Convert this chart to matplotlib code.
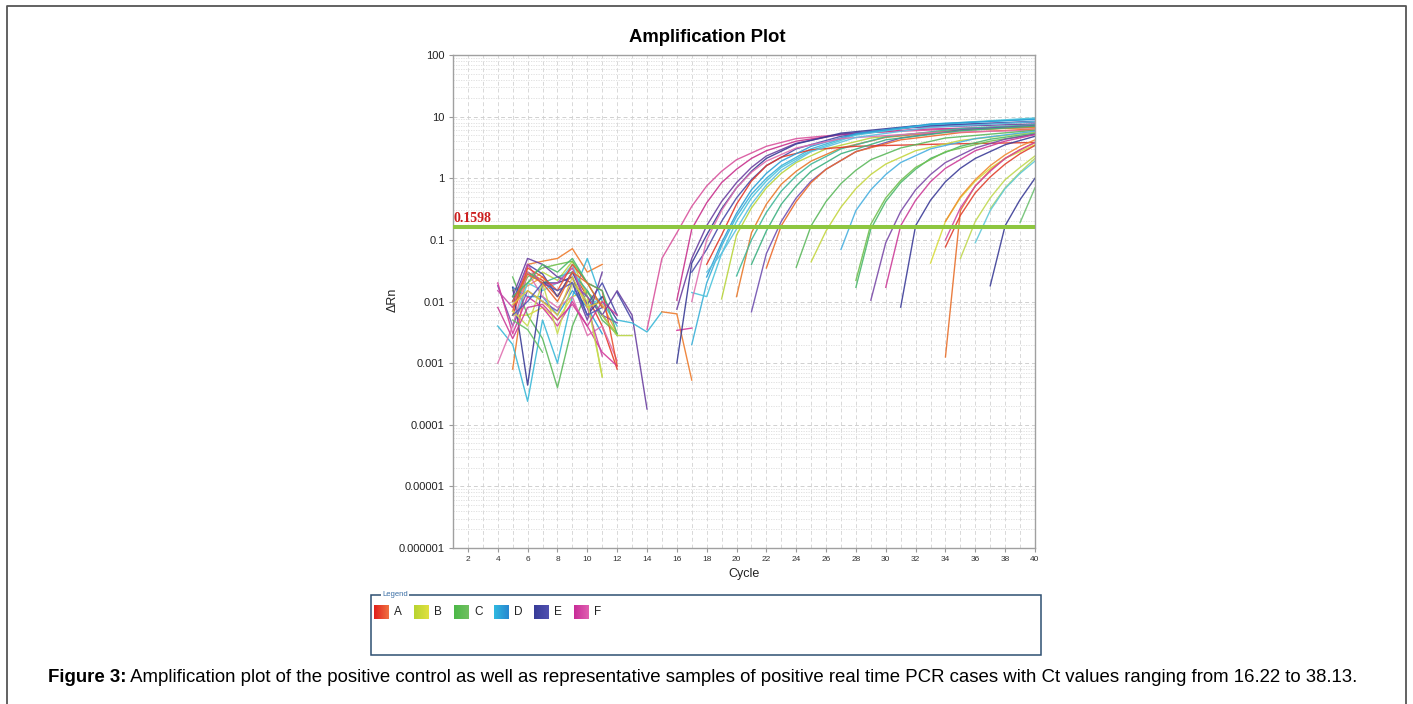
import matplotlib
matplotlib.use("Agg")
import matplotlib.pyplot as plt
import numpy as np
from matplotlib.ticker import FixedLocator, LogLocator, NullFormatter

plt.rcParams["font.family"] = ["Liberation Sans", "DejaVu Sans"]

nan = np.nan

W, H = 1413, 704

# ---- baseline noise (cycles 4..12) ----
NOISE_CYCLES = [4, 5, 6, 7, 8, 9, 10, 11, 12]
noise_colors = [
    "#e53a28", "#ee7b2c", "#f09a3a", "#d8d83a", "#b8d443", "#5cb85c",
    "#70c04c", "#40b094", "#3ab8d8", "#2a9fd6", "#58c8e0", "#3a3c96",
    "#4848a8", "#6a3fa0", "#7a50b0", "#d6399a", "#e070b0", "#c84aa8",
    "#e85030", "#c8dc50", "#4cb86c", "#e0c838", "#cc3c98", "#5058b8",
    "#66c266", "#e8652e",
]
noise_values = [
    [nan, 0.006, 0.03, 0.022, 0.012, 0.03, 0.012, 0.004, 0.0008],
    [nan, 0.0008, 0.04, 0.045, 0.05, 0.072, 0.03, 0.04, nan],
    [nan, 0.012, 0.018, 0.025, 0.012, 0.03, 0.014, 0.009, 0.003],
    [nan, 0.006, 0.006, 0.008, 0.005, 0.012, 0.015, 0.006, 0.003],
    [nan, 0.015, 0.02, 0.03, 0.022, 0.045, 0.012, 0.0006, nan],
    [nan, 0.025, 0.006, 0.0025, 0.0004, 0.004, 0.015, 0.005, 0.003],
    [nan, 0.008, 0.025, 0.035, 0.04, 0.045, 0.02, 0.008, nan],
    [nan, 0.01, 0.03, 0.02, 0.025, 0.03, 0.015, 0.006, 0.0028],
    [0.004, 0.002, 0.00024, 0.005, 0.001, 0.012, 0.05, 0.01, 0.004],
    [nan, 0.017, 0.012, 0.012, 0.006, 0.015, 0.008, 0.003, nan],
    [nan, 0.004, 0.02, 0.015, 0.02, 0.04, 0.008, 0.012, nan],
    [nan, 0.017, 0.00044, 0.02, 0.02, 0.025, 0.006, 0.012, 0.005],
    [nan, 0.01, 0.04, 0.028, 0.012, 0.03, 0.009, 0.02, 0.006],
    [nan, 0.012, 0.05, 0.04, 0.025, 0.02, 0.005, 0.03, nan],
    [0.018, 0.004, 0.015, 0.01, 0.007, 0.02, 0.012, 0.006, 0.0045],
    [0.02, 0.003, 0.012, 0.008, 0.004, 0.01, 0.004, 0.0015, 0.0009],
    [0.001, 0.004, 0.03, 0.012, 0.008, 0.012, 0.0028, 0.004, 0.0011],
    [0.015, 0.008, 0.04, 0.018, 0.02, 0.035, 0.008, 0.0013, nan],
    [nan, 0.007, 0.035, 0.025, 0.015, 0.04, 0.02, 0.015, 0.0009],
    [nan, 0.007, 0.004, 0.02, 0.003, 0.02, 0.01, 0.0006, nan],
    [nan, 0.012, 0.02, 0.04, 0.03, 0.05, 0.02, 0.015, 0.003],
    [nan, 0.009, 0.015, 0.01, 0.006, 0.025, 0.008, 0.01, nan],
    [0.008, 0.0025, 0.008, 0.009, 0.005, 0.009, 0.004, 0.01, 0.006],
    [nan, 0.006, 0.01, 0.02, 0.015, 0.02, 0.006, 0.008, nan],
    [nan, 0.005, 0.0035, 0.0015, nan, nan, nan, nan, nan],
    [nan, 0.01, 0.028, 0.02, 0.01, 0.03, 0.02, 0.008, nan],
]

# ---- short noisy pieces after the baseline ----
tail_colors = ["#6a3fa0", "#4848a8", "#3ab8d8", "#ee7b2c", "#d6399a", "#b8d443"]
tail_cycles = [
    [11, 12, 13, 14],
    [12, 13],
    [12, 13, 14, 15],
    [15, 16, 17],
    [16, 17],
    [11, 12, 13],
]
tail_values = [
    [0.006, 0.015, 0.006, 0.00018],
    [0.014, 0.005],
    [0.005, 0.0045, 0.0032, 0.0068],
    [0.0068, 0.0063, 0.00053],
    [0.0034, 0.0037],
    [0.006, 0.0028, 0.0028],
]

# ---- amplification curves ----
amp_colors = [
    "#d9539d", "#c8308c", "#6a3fa0", "#3a3c96", "#4a4aa8", "#3ab0d8",
    "#4cc4dc", "#b8d43c", "#e8782a", "#40b89a", "#7050b0", "#ec6a2c",
    "#e03a2a", "#2a9fd6", "#e070b0", "#5cb85c", "#c4d640", "#48b0e0",
    "#4cb86c", "#70c050", "#7a4aa8", "#cc3c98", "#3c3c98", "#d8dc3c",
    "#e8702c", "#e0402c", "#f08a30", "#c0d850", "#b0d860", "#60c8d8",
    "#3a3c96", "#6cc070", "#d04aa0", "#5cc0e0", "#3cb080",
]
amp_cycles = [
    [14, 15, 16, 17, 18, 19, 20, 22, 24, 28, 34, 40],
    [16, 17, 18, 19, 20, 21, 22, 24, 27, 32, 40],
    [16, 17, 18, 19, 20, 21, 22, 24, 27, 32, 40],
    [16, 17, 18, 19, 20, 21, 22, 24, 27, 32, 40],
    [17, 18, 19, 20, 21, 22, 24, 27, 32, 40],
    [17, 18, 19, 20, 21, 22, 23, 25, 28, 33, 40],
    [17, 18, 19, 20, 21, 22, 23, 25, 28, 33, 40],
    [19, 20, 21, 22, 23, 24, 26, 29, 34, 40],
    [20, 21, 22, 23, 24, 25, 27, 30, 35, 40],
    [20, 21, 22, 23, 24, 25, 27, 30, 35, 40],
    [21, 22, 23, 24, 25, 26, 28, 31, 35, 40],
    [22, 23, 24, 25, 26, 28, 31, 35, 40],
    [18, 19, 20, 21, 22, 23, 25, 28, 34, 40],
    [18, 19, 20, 21, 22, 23, 25, 28, 33, 40],
    [17, 18, 19, 20, 21, 22, 24, 27, 33, 40],
    [24, 25, 26, 27, 28, 29, 31, 34, 40],
    [25, 26, 27, 28, 29, 30, 32, 35, 40],
    [27, 28, 29, 30, 31, 33, 36, 40],
    [28, 29, 30, 31, 32, 33, 35, 37, 40],
    [28, 29, 30, 31, 32, 34, 37, 40],
    [29, 30, 31, 32, 33, 34, 36, 38, 40],
    [30, 31, 32, 33, 34, 36, 38, 40],
    [31, 32, 33, 34, 35, 36, 38, 40],
    [33, 34, 35, 36, 37, 38, 40],
    [34, 35, 36, 37, 38, 39, 40],
    [34, 35, 36, 37, 38, 39, 40],
    [34, 35, 36, 37, 38, 39, 40],
    [35, 36, 37, 38, 39, 40],
    [37, 38, 39, 40],
    [36, 37, 38, 39, 40],
    [37, 38, 39, 40],
    [39, 40],
    [34, 35, 36, 37, 38, 39, 40],
    [18, 19, 20, 21, 22, 23, 25, 28, 33, 40],
    [21, 22, 23, 24, 25, 27, 30, 35, 40],
]
amp_values = [
    [0.0035, 0.05, 0.13, 0.35, 0.75, 1.3, 2.0, 3.3, 4.4, 5.4, 6.2, 6.6],
    [0.0105, 0.15, 0.4, 0.85, 1.4, 2.1, 2.8, 4.0, 5.1, 6.2, 7.0],
    [0.0075, 0.05, 0.17, 0.42, 0.85, 1.5, 2.3, 3.7, 5.2, 6.7, 7.6],
    [0.001, 0.042, 0.12, 0.32, 0.7, 1.3, 2.1, 3.6, 5.4, 7.1, 8.2],
    [0.03, 0.07, 0.2, 0.48, 0.95, 1.6, 3.0, 4.8, 6.9, 8.4],
    [0.002, 0.02, 0.08, 0.24, 0.55, 1.0, 1.6, 3.0, 5.2, 7.4, 9.2],
    [0.014, 0.012, 0.06, 0.2, 0.48, 0.9, 1.5, 2.8, 5.0, 7.5, 9.5],
    [0.011, 0.12, 0.33, 0.7, 1.2, 1.8, 3.0, 4.5, 5.9, 6.8],
    [0.012, 0.13, 0.38, 0.8, 1.3, 1.9, 3.1, 4.6, 6.0, 6.8],
    [0.026, 0.1, 0.28, 0.62, 1.1, 1.7, 3.0, 4.7, 6.4, 7.4],
    [0.0068, 0.06, 0.2, 0.48, 0.9, 1.4, 2.7, 4.5, 6.1, 7.2],
    [0.035, 0.17, 0.42, 0.85, 1.4, 2.7, 4.2, 5.5, 6.3],
    [0.04, 0.12, 0.38, 0.9, 1.6, 2.2, 2.9, 3.3, 3.6, 3.8],
    [0.025, 0.09, 0.27, 0.65, 1.2, 1.9, 3.3, 5.3, 7.6, 9.0],
    [0.01, 0.1, 0.3, 0.7, 1.25, 1.9, 3.1, 4.4, 5.5, 6.0],
    [0.036, 0.17, 0.42, 0.82, 1.35, 2.0, 3.1, 4.5, 6.0],
    [0.044, 0.14, 0.34, 0.68, 1.15, 1.7, 2.8, 4.1, 5.6],
    [0.07, 0.3, 0.65, 1.15, 1.8, 3.0, 4.4, 5.8],
    [0.017, 0.15, 0.42, 0.85, 1.4, 2.1, 3.3, 4.3, 5.4],
    [0.022, 0.18, 0.48, 0.92, 1.5, 2.7, 4.0, 5.2],
    [0.0105, 0.09, 0.29, 0.65, 1.15, 1.8, 3.1, 4.3, 5.2],
    [0.017, 0.17, 0.44, 0.88, 1.45, 2.8, 4.0, 5.1],
    [0.0081, 0.17, 0.44, 0.88, 1.45, 2.1, 3.5, 4.8],
    [0.042, 0.2, 0.48, 0.9, 1.45, 2.1, 3.5],
    [0.00126, 0.3, 0.75, 1.35, 2.1, 2.9, 3.8],
    [0.077, 0.25, 0.58, 1.05, 1.7, 2.5, 3.4],
    [0.2, 0.5, 0.95, 1.6, 2.4, 3.3, 4.2],
    [0.05, 0.2, 0.48, 0.95, 1.5, 2.3],
    [0.32, 0.7, 1.25, 2.1],
    [0.09, 0.3, 0.68, 1.2, 1.9],
    [0.018, 0.17, 0.45, 1.0],
    [0.19, 0.7],
    [0.1, 0.33, 0.75, 1.3, 2.1, 2.9, 3.8],
    [0.03, 0.06, 0.15, 0.38, 0.78, 1.35, 2.7, 4.6, 6.7, 8.3],
    [0.04, 0.14, 0.38, 0.75, 1.3, 2.5, 4.2, 5.9, 7.0],
]

THRESHOLD = 0.1598
X_TICKS = list(range(2, 41, 2))
Y_TICKS = [1e-6, 1e-5, 1e-4, 1e-3, 1e-2, 1e-1, 1, 10, 100]
Y_TICK_LABELS = ["0.000001", "0.00001", "0.0001", "0.001", "0.01", "0.1", "1", "10", "100"]

LEGEND_NAMES = ["A", "B", "C", "D", "E", "F"]
LEGEND_LEFT = ["#e0201c", "#b8d430", "#4cb848", "#30b8e0", "#383c98", "#c82c98"]
LEGEND_RIGHT = ["#f07040", "#e0e040", "#70c060", "#2888d0", "#5050b0", "#e060b0"]

CAPTION_BOLD = "Figure 3:"
CAPTION = (" Amplification plot of the positive control as well as representative samples "
           "of positive real time PCR cases with Ct values ranging from 16.22 to 38.13.")


fig = plt.figure(figsize=(W / 100, H / 100), dpi=100)

# overlay in pixel coordinates for frame, legend and caption
ov = fig.add_axes([0, 0, 1, 1])
ov.set_xlim(0, W)
ov.set_ylim(H, 0)
ov.axis("off")
ov.plot([7, 7, 1406, 1406], [720, 6, 6, 720], color="#555555", lw=1.3)

# legend box
ov.add_patch(plt.Rectangle((371, 595), 670, 60, fill=False, ec="#2e4f72", lw=1.1))
ov.text(382, 595, "Legend", fontsize=5.5, color="#3a6ea5", va="center", ha="left",
        bbox=dict(fc="white", ec="none", pad=0.6))
for i, name in enumerate(LEGEND_NAMES):
    x0 = 374 + i * 40
    grad = np.linspace(0, 1, 20)[None, :, None]
    c0 = np.array(matplotlib.colors.to_rgb(LEGEND_LEFT[i]))
    c1 = np.array(matplotlib.colors.to_rgb(LEGEND_RIGHT[i]))
    img = c0 * (1 - grad) + c1 * grad
    ov.imshow(img, extent=(x0, x0 + 15, 619, 605), aspect="auto", interpolation="bilinear")
    ov.text(x0 + 20, 612, name, fontsize=8.5, va="center", ha="left", color="#222222")
ov.set_xlim(0, W)
ov.set_ylim(H, 0)

# caption
t1 = ov.text(48, 677, CAPTION_BOLD, fontsize=13.4, fontweight="bold", va="center", ha="left")
fig.canvas.draw()
bb = t1.get_window_extent()
ov.text(48 + bb.width, 677, CAPTION, fontsize=13.4, va="center", ha="left")

# main plot
ax = fig.add_axes([453 / W, 1 - 548 / H, 582 / W, 493 / H])
ax.set_yscale("log")
ax.set_xlim(1, 40)
ax.set_ylim(1e-6, 100)

for color, vals in zip(noise_colors, noise_values):
    ax.plot(NOISE_CYCLES, vals, color=color, lw=1.0, alpha=0.9)
for color, cyc, vals in zip(tail_colors, tail_cycles, tail_values):
    ax.plot(cyc, vals, color=color, lw=1.0, alpha=0.9)
for color, cyc, vals in zip(amp_colors, amp_cycles, amp_values):
    ax.plot(cyc, vals, color=color, lw=1.0, alpha=0.9)

ax.axhline(THRESHOLD, color="#8dc63f", lw=2.9, zorder=5)
ax.text(1.05, THRESHOLD * 1.08, "0.1598", color="#cc1f1f", fontsize=10, fontweight="bold",
        family="Liberation Serif", va="bottom", ha="left", zorder=6)

ax.xaxis.set_major_locator(FixedLocator(X_TICKS))
ax.xaxis.set_minor_locator(FixedLocator(range(1, 41)))
ax.set_xticklabels([str(v) for v in X_TICKS], fontsize=6, color="#333333")
ax.yaxis.set_major_locator(FixedLocator(Y_TICKS))
ax.set_yticklabels(Y_TICK_LABELS, fontsize=8, color="#222222")
ax.yaxis.set_minor_locator(LogLocator(base=10, subs=range(2, 10), numticks=20))
ax.yaxis.set_minor_formatter(NullFormatter())
ax.tick_params(axis="both", which="major", length=3, color="#999999", pad=3)
ax.tick_params(axis="both", which="minor", length=0)

ax.grid(True, axis="x", which="both", color="#d8d8d8", lw=0.7, ls=(0, (4, 3)))
ax.grid(True, axis="y", which="major", color="#d0d0d0", lw=0.7, ls=(0, (4, 3)))
ax.grid(True, axis="y", which="minor", color="#dddddd", lw=0.6, ls=(0, (1.5, 1.5)))
ax.set_axisbelow(True)
for s in ax.spines.values():
    s.set_color("#a0a0a0")
    s.set_linewidth(1)

fig.text(707 / W, 1 - 38 / H, "Amplification Plot", fontsize=13.3, fontweight="bold",
         ha="center", va="center")
fig.text(744 / W, 1 - 574 / H, "Cycle", fontsize=9, ha="center", va="center", color="#222222")
fig.text(393 / W, 1 - 300 / H, "ΔRn", fontsize=9, rotation=90, ha="center", va="center",
         color="#222222")

fig.savefig("out.png", dpi=100)
